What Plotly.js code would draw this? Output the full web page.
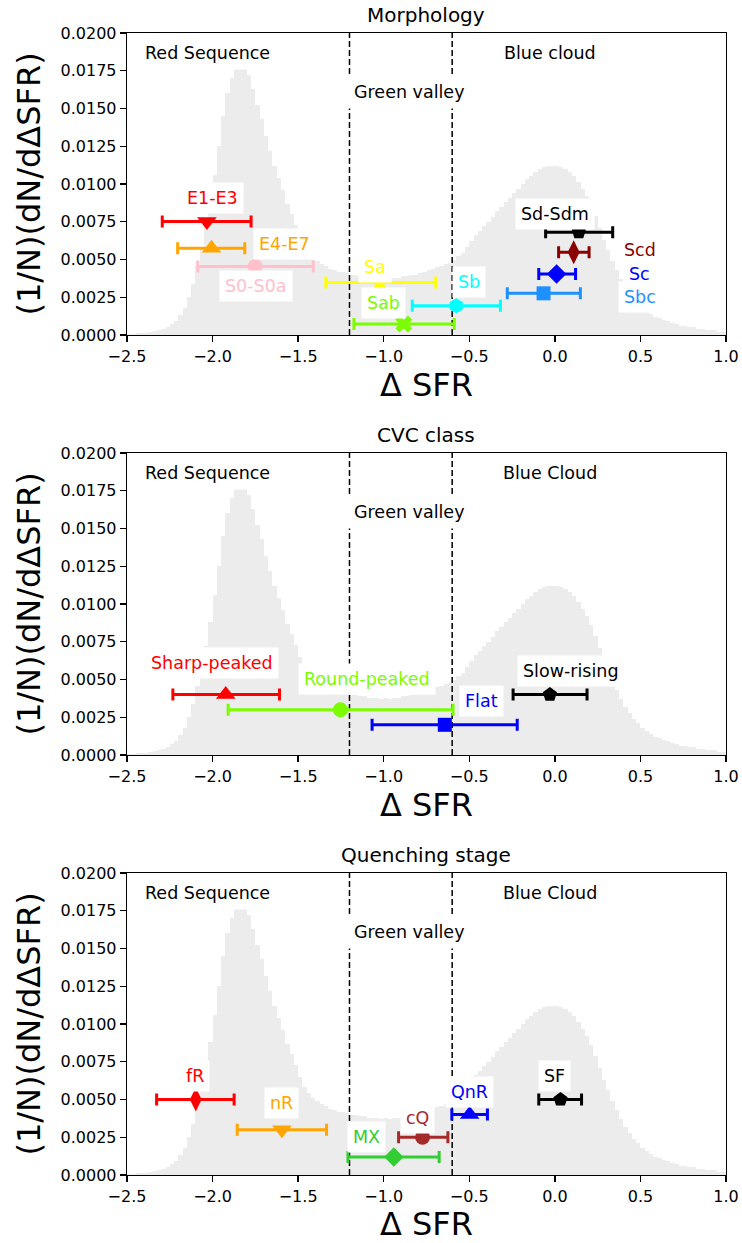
<!DOCTYPE html>
<html>
<head>
<meta charset="utf-8">
<script src="https://cdn.plot.ly/plotly-3.0.1.min.js"></script>
<style>html,body{margin:0;padding:0;background:#fff;}#chart{width:742px;height:1243px;}</style>
</head>
<body>
<div id="chart"></div>
<script>
// ---------------- DATA ----------------
// Background ΔSFR distribution (normalised histogram), bins of 0.025 from -2.5 to 1.0
const histBinStart = -2.5;
const histBinWidth = 0.025;
const histDensity = [
  0.00005,0.00007,0.0001,0.00012,0.00015,0.0002,0.00025,0.0003,0.0004,0.0005,
  0.0007,0.0009,0.0013,0.0018,0.0025,0.0034,0.0046,0.0058,0.0072,0.0088,
  0.0106,0.0125,0.0145,0.0160,0.0170,0.0176,0.0178,0.0177,0.0172,0.0163,
  0.0152,0.0143,0.0132,0.0122,0.0112,0.0104,0.0096,0.0087,0.0080,0.0073,
  0.0065,0.0058,0.0054,0.0051,0.0049,0.0047,0.0046,0.0044,0.0043,0.0042,
  0.0042,0.0041,0.0040,0.0040,0.0039,0.0039,0.0038,0.0038,0.0038,0.0037,
  0.0038,0.0037,0.0038,0.0038,0.0039,0.0039,0.0040,0.0040,0.0041,0.0042,
  0.0043,0.0044,0.0045,0.0046,0.0047,0.0048,0.0050,0.0052,0.0054,0.0058,
  0.0062,0.0066,0.0069,0.0072,0.0075,0.0078,0.0082,0.0085,0.0088,0.0091,
  0.0094,0.0097,0.0100,0.0103,0.0105,0.0108,0.0110,0.0111,0.0112,0.0112,
  0.0112,0.0111,0.0110,0.0108,0.0105,0.0101,0.0097,0.0092,0.0086,0.0079,
  0.0071,0.0063,0.0056,0.0049,0.0043,0.0037,0.0032,0.0028,0.0024,0.0021,
  0.0018,0.0016,0.0014,0.0012,0.0011,0.0010,0.0009,0.0008,0.0007,0.0006,
  0.0006,0.0005,0.0005,0.0004,0.0004,0.0003,0.0003,0.0003,0.0002,0.0002
];
const greenValleyBounds = [-1.2, -0.6];

// Panel 1: Morphology
const morphLabels = ['E1-E3','E4-E7','S0-S0a','Sa','Sab','Sb','Sbc','Sc','Scd','Sd-Sdm'];
const morphX   = [-2.033,-2.006,-1.752,-1.024,-0.883,-0.576,-0.066,0.010,0.110,0.140];
const morphY   = [0.00751,0.00575,0.00453,0.00347,0.00073,0.00194,0.00276,0.00404,0.00548,0.00681];
const morphXlo = [-2.294,-2.204,-2.087,-1.338,-1.174,-0.833,-0.278,-0.094,0.022,-0.054];
const morphXhi = [-1.775,-1.812,-1.412,-0.696,-0.588,-0.318,0.149,0.121,0.200,0.338];
const morphLabelX = [-1.999,-1.578,-1.749,-1.052,-1.001,-0.502,0.495,0.495,0.495,-0.001];
const morphLabelY = [0.00906,0.00603,0.00325,0.00453,0.00214,0.00351,0.00254,0.00404,0.00564,0.00802];

// Panel 2: CVC class
const cvcLabels = ['Sharp-peaked','Round-peaked','Flat','Slow-rising'];
const cvcX   = [-1.923,-1.253,-0.643,-0.029];
const cvcY   = [0.0040,0.0030,0.0020,0.0040];
const cvcXlo = [-2.232,-1.909,-1.068,-0.244];
const cvcXhi = [-1.609,-0.595,-0.220,0.188];
const cvcLabelX = [-2.001,-1.100,-0.428,0.096];
const cvcLabelY = [0.00608,0.00506,0.00358,0.00557];

// Panel 3: Quenching stage
const qLabels = ['fR','nR','MX','cQ','QnR','SF'];
const qX   = [-2.098,-1.595,-0.941,-0.773,-0.498,0.033];
const qY   = [0.0050,0.0030,0.0012,0.0025,0.0040,0.0050];
const qXlo = [-2.327,-1.856,-1.209,-0.913,-0.602,-0.094];
const qXhi = [-1.874,-1.334,-0.676,-0.625,-0.394,0.156];
const qLabelX = [-2.103,-1.599,-1.098,-0.803,-0.498,-0.001];
const qLabelY = [0.00654,0.0048,0.00254,0.0038,0.00552,0.00654];

const xTickVals = [-2.5,-2.0,-1.5,-1.0,-0.5,0.0,0.5,1.0];
const xTickText = ['\u22122.5','\u22122.0','\u22121.5','\u22121.0','\u22120.5','0.0','0.5','1.0'];
const yTickVals = [0,0.0025,0.005,0.0075,0.01,0.0125,0.015,0.0175,0.02];

// ---------------- STYLES ----------------
const FONT = 'DejaVu Sans, Verdana, sans-serif';
const symbolSize = {'triangle-down':17,'triangle-up':17,'circle':15,'star':18,'x':15,'hexagon':15,
                    'square':14,'diamond':15,'diamond-tall':17,'pentagon':15};
const morphColors = ['#ff0000','#ffa500','#ffc0cb','#ffff00','#7cfc00','#00ffff','#1e90ff','#0000ff','#8b0000','#000000'];
const morphSymbols = ['triangle-down','triangle-up','circle','star','x','hexagon','square','diamond','diamond-tall','pentagon'];
const cvcColors = ['#ff0000','#7cfc00','#0000ff','#000000'];
const cvcSymbols = ['triangle-up','circle','square','pentagon'];
const qColors = ['#ff0000','#ffa500','#32cd32','#a52a2a','#0000ff','#000000'];
const qSymbols = ['diamond-tall','triangle-down','diamond','circle','triangle-up','pentagon'];

const panels = [
  {title:'Morphology', blue:'Blue cloud', labels:morphLabels, x:morphX, y:morphY, lo:morphXlo, hi:morphXhi, lx:morphLabelX, ly:morphLabelY, colors:morphColors, symbols:morphSymbols},
  {title:'CVC class', blue:'Blue Cloud', labels:cvcLabels, x:cvcX, y:cvcY, lo:cvcXlo, hi:cvcXhi, lx:cvcLabelX, ly:cvcLabelY, colors:cvcColors, symbols:cvcSymbols},
  {title:'Quenching stage', blue:'Blue Cloud', labels:qLabels, x:qX, y:qY, lo:qXlo, hi:qXhi, lx:qLabelX, ly:qLabelY, colors:qColors, symbols:qSymbols}
];

// pixel geometry of the figure (742 x 1243)
const W = 742, H = 1243;
const xDomain = [127/W, 726/W];
const panelTopPx = [33, 453, 873];
const panelH = 302;
const titleYpx = [15, 435, 855];

const binEdges = histDensity.map((_, i) => histBinStart + i*histBinWidth);

const traces = [];
const annotations = [];
const layout = {
  width: W, height: H,
  margin: {l:0, r:0, t:0, b:0},
  paper_bgcolor: '#ffffff', plot_bgcolor: '#ffffff',
  showlegend: false,
  bargap: 0,
  font: {family: FONT, color: '#000000', size: 16},
  annotations: annotations
};

panels.forEach((p, k) => {
  const sfx = k === 0 ? '' : String(k+1);
  const xa = 'x' + sfx, ya = 'y' + sfx;
  // histogram
  traces.push({
    type:'bar', x: binEdges, y: histDensity, width: histBinWidth, offset: 0,
    marker:{color:'#ececec', line:{width:0}}, xaxis: xa, yaxis: ya, hoverinfo:'skip'
  });
  // green valley boundaries
  greenValleyBounds.forEach(b => {
    traces.push({
      type:'scatter', mode:'lines', x:[b,b], y:[0,0.02], xaxis:xa, yaxis:ya,
      line:{color:'#000000', width:1.5, dash:'6px,3px'}, hoverinfo:'skip'
    });
  });
  // points with error bars
  p.labels.forEach((lab, i) => {
    traces.push({
      type:'scatter', mode:'markers', name: lab,
      x:[p.x[i]], y:[p.y[i]], xaxis:xa, yaxis:ya,
      marker:{color:p.colors[i], symbol:p.symbols[i], size: symbolSize[p.symbols[i]], line:{width:0}},
      error_x:{type:'data', symmetric:false, array:[p.hi[i]-p.x[i]], arrayminus:[p.x[i]-p.lo[i]],
               color:p.colors[i], thickness:3, width:6}
    });
    annotations.push({
      xref:xa, yref:ya, x:p.lx[i], y:p.ly[i], text:lab, showarrow:false,
      font:{family:FONT, size:17.5, color:p.colors[i]}, bgcolor:'#ffffff', borderpad:5
    });
  });
  // region labels
  annotations.push({xref:xa, yref:ya, x:-2.029, y:0.01867, text:'Red Sequence', showarrow:false,
    font:{family:FONT, size:17.5, color:'#000000'}, bgcolor:'#ffffff', borderpad:6});
  annotations.push({xref:xa, yref:ya, x:-0.851, y:0.01607, text:'Green valley', showarrow:false,
    font:{family:FONT, size:17.5, color:'#000000'}, bgcolor:'#ffffff', borderpad:6});
  annotations.push({xref:xa, yref:ya, x:-0.029, y:0.01867, text:p.blue, showarrow:false,
    font:{family:FONT, size:17.5, color:'#000000'}, bgcolor:'#ffffff', borderpad:6});
  // panel title
  annotations.push({xref:'paper', yref:'paper', x:(xDomain[0]+xDomain[1])/2, y:1-titleYpx[k]/H,
    text:p.title, showarrow:false, xanchor:'center', yanchor:'middle',
    font:{family:FONT, size:20, color:'#000000'}});

  const yd = [1-(panelTopPx[k]+panelH)/H, 1-panelTopPx[k]/H];
  layout['xaxis'+sfx] = {
    domain: xDomain, anchor: ya, range:[-2.5, 1.0],
    tickmode:'array', tickvals:xTickVals, ticktext:xTickText,
    ticks:'outside', ticklen:6, tickwidth:1.3, tickcolor:'#000',
    showline:true, linecolor:'#000', linewidth:1.3, mirror:true,
    showgrid:false, zeroline:false, tickfont:{family:FONT, size:16, color:'#000'},
    title:{text:'\u0394 SFR', font:{family:FONT, size:32, color:'#000'}, standoff:4},
    fixedrange:true
  };
  layout['yaxis'+sfx] = {
    domain: yd, anchor: xa, range:[0, 0.02],
    tickmode:'array', tickvals:yTickVals, tickformat:'.4f',
    ticks:'outside', ticklen:6, tickwidth:1.3, tickcolor:'#000',
    showline:true, linecolor:'#000', linewidth:1.3, mirror:true,
    showgrid:false, zeroline:false, tickfont:{family:FONT, size:16, color:'#000'},
    title:{text:'(1/N)(dN/d\u0394SFR)', font:{family:FONT, size:32, color:'#000'}, standoff:10},
    fixedrange:true
  };
});

Plotly.newPlot('chart', traces, layout, {staticPlot:true, displayModeBar:false});
</script>
</body>
</html>
